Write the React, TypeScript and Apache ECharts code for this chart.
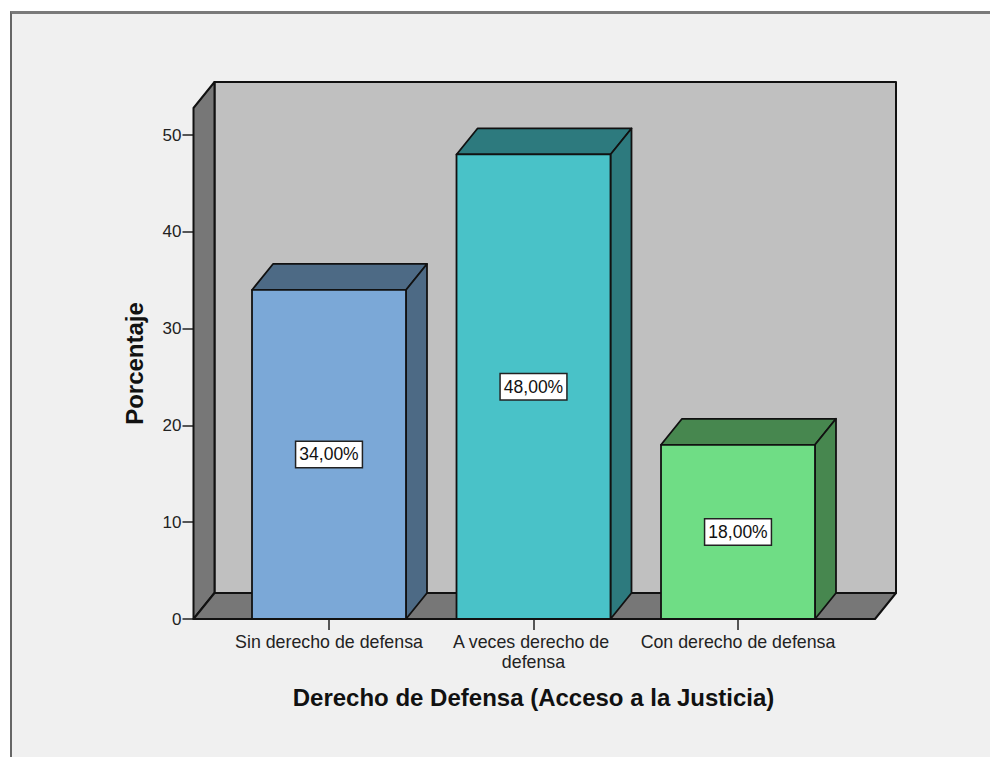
import React, { useEffect, useRef } from "react";
import * as echarts from "echarts";

const categories = ["Sin derecho de defensa", "A veces derecho de defensa", "Con derecho de defensa"];
const values = [34, 48, 18];
const valueLabels = ["34,00%", "48,00%", "18,00%"];
const frontColors = ["#7ba8d7", "#49c2c8", "#6fdd85"];
const shadeColors = ["#4d6a85", "#2d7a7e", "#47874f"];
const yTicks = [0, 10, 20, 30, 40, 50];

const FONT = '"Liberation Sans", Arial, sans-serif';
const DX = 21;
const DY = 26;
const AXIS_OVERHANG_L = 33.25;
const AXIS_OVERHANG_R = 34.75;
const LINE = "#111111";

function renderWalls(params: any, api: any) {
  const cs = params.coordSys;
  const l = cs.x - AXIS_OVERHANG_L;
  const r = cs.x + cs.width + AXIS_OVERHANG_R;
  const t = cs.y;
  const b = cs.y + cs.height;
  const wall = { stroke: LINE, lineWidth: 2, lineJoin: "round" };
  return {
    type: "group",
    children: [
      { type: "rect", shape: { x: l + DX, y: t - DY, width: r - l, height: b - t }, style: { fill: "#c0c0c0", ...wall } },
      { type: "polygon", shape: { points: [[l, t], [l + DX, t - DY], [l + DX, b - DY], [l, b]] }, style: { fill: "#777777", ...wall } },
      { type: "polygon", shape: { points: [[l, b], [l + DX, b - DY], [r + DX, b - DY], [r, b]] }, style: { fill: "#777777", ...wall } },
    ],
  };
}

function renderBar(params: any, api: any) {
  const i = params.dataIndex;
  const [cx, y1] = api.coord([i, api.value(1)]);
  const [, y0] = api.coord([i, 0]);
  const [, ym] = api.coord([i, api.value(1) / 2]);
  const w = api.size([1, 0])[0] * 0.753;
  const x0 = cx - w / 2;
  const x1 = cx + w / 2;
  const edge = { stroke: LINE, lineWidth: 1.8, lineJoin: "round" };
  return {
    type: "group",
    children: [
      { type: "polygon", shape: { points: [[x0, y1], [x0 + DX, y1 - DY], [x1 + DX, y1 - DY], [x1, y1]] }, style: { fill: shadeColors[i], ...edge } },
      { type: "polygon", shape: { points: [[x1, y1], [x1 + DX, y1 - DY], [x1 + DX, y0 - DY], [x1, y0]] }, style: { fill: shadeColors[i], ...edge } },
      { type: "rect", shape: { x: x0, y: y1, width: x1 - x0, height: y0 - y1 }, style: { fill: frontColors[i], ...edge } },
      {
        type: "text",
        x: cx,
        y: ym,
        style: {
          text: valueLabels[i],
          align: "center",
          verticalAlign: "middle",
          fill: "#111111",
          font: `17.5px ${FONT}`,
          backgroundColor: "#ffffff",
          borderColor: "#222222",
          borderWidth: 1.5,
          padding: [4, 3, 3, 3],
        },
      },
    ],
  };
}

export default function App() {
  const ref = useRef<HTMLDivElement>(null);

  useEffect(() => {
    document.body.style.margin = "0";
    document.body.style.background = "#ffffff";
    const chart = echarts.init(ref.current!, undefined, { renderer: "svg" });
    chart.setOption({
      animation: false,
      backgroundColor: "transparent",
      grid: { left: 226.75, width: 613.5, top: 108, height: 511 },
      xAxis: {
        type: "category",
        data: categories,
        name: "Derecho de Defensa (Acceso a la Justicia)",
        nameLocation: "middle",
        nameGap: 66,
        nameTextStyle: { fontFamily: FONT, fontWeight: "bold", fontSize: 24, color: "#111111" },
        axisLine: { show: false },
        axisTick: { show: true, alignWithLabel: true, length: 11, lineStyle: { color: "#222222", width: 1.5 } },
        axisLabel: {
          interval: 0,
          fontFamily: FONT,
          fontSize: 17.8,
          color: "#222222",
          margin: 13,
          width: 195,
          overflow: "break",
          lineHeight: 20,
        },
      },
      yAxis: {
        type: "value",
        min: 0,
        max: 52.8,
        interval: 10,
        offset: AXIS_OVERHANG_L,
        name: "Porcentaje",
        nameLocation: "middle",
        nameGap: 47,
        nameTextStyle: { fontFamily: FONT, fontWeight: "bold", fontSize: 24, color: "#111111" },
        splitLine: { show: false },
        axisLine: { show: false },
        axisTick: { show: true, length: 11, customValues: yTicks, lineStyle: { color: "#222222", width: 1.5 } },
        axisLabel: { fontFamily: FONT, fontSize: 17, color: "#222222", margin: 12, customValues: yTicks },
      },
      series: [
        { type: "custom", renderItem: renderWalls, data: [[0, 0]], silent: true, z: 1 },
        {
          type: "custom",
          renderItem: renderBar,
          data: values.map((v, i) => [i, v]),
          encode: { x: 0, y: 1 },
          z: 2,
        },
      ],
    });
    return () => chart.dispose();
  }, []);

  return (
    <div style={{ position: "absolute", left: 0, top: 0, width: 990, height: 757, overflow: "hidden", background: "#ffffff" }}>
      <div
        style={{
          position: "absolute",
          left: 10,
          top: 11,
          width: 990,
          height: 757,
          background: "#f0f0f0",
          borderTop: "3px solid #7a7a7a",
          borderLeft: "2px solid #666666",
        }}
      />
      <div ref={ref} style={{ position: "absolute", left: 0, top: 0, width: 990, height: 757 }} />
    </div>
  );
}
